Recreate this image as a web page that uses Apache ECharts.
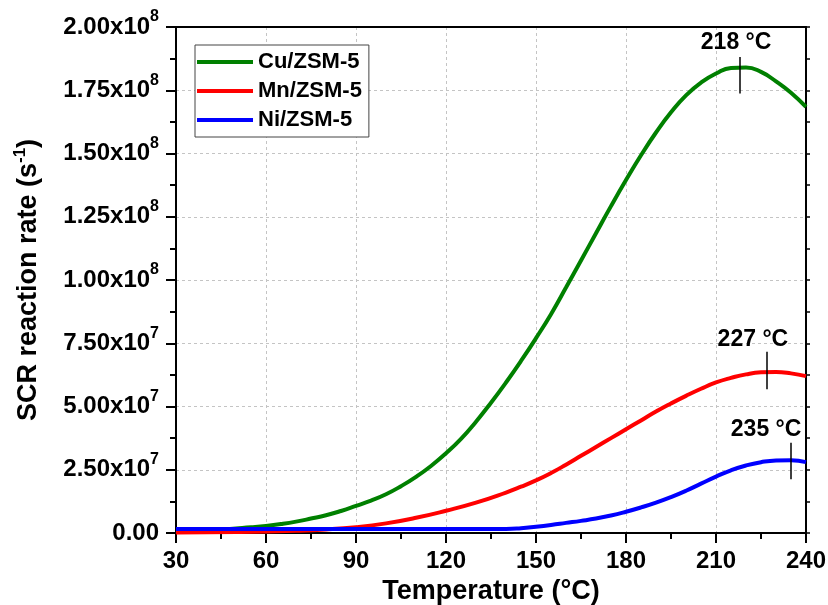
<!DOCTYPE html>
<html>
<head>
<meta charset="utf-8">
<script src="https://cdn.jsdelivr.net/npm/echarts@6/dist/echarts.min.js"></script>
<style>html,body{margin:0;padding:0;background:#fff}#c{width:828px;height:605px}</style>
</head>
<body>
<div id="c"></div>
<script>
// ---- data ----
const cuT   = [30, 35, 40, 45, 50, 55, 60, 65, 70, 75, 80, 85, 90, 95, 100, 105, 110, 115, 120, 125, 130, 135, 140, 145, 150, 155, 160, 165, 170, 175, 180, 185, 190, 195, 200, 205, 210, 215, 220, 225, 230, 235, 240];
const cuVal = [0.5e6, 0.7e6, 1.0e6, 1.35e6, 1.8e6, 2.25e6, 2.8e6, 3.55e6, 4.5e6, 5.7e6, 7.0e6, 8.7e6, 1.07e7, 1.28e7, 1.53e7, 1.85e7, 2.22e7, 2.65e7, 3.15e7, 3.72e7, 4.4e7, 5.15e7, 5.95e7, 6.8e7, 7.7e7, 8.65e7, 9.7e7, 1.077e8, 1.185e8, 1.292e8, 1.395e8, 1.493e8, 1.583e8, 1.663e8, 1.73e8, 1.78e8, 1.816e8, 1.8384e8, 1.8404e8, 1.8224e8, 1.785e8, 1.74e8, 1.684e8];
const mnT   = [30, 50, 70, 80, 90, 100, 110, 120, 130, 140, 145, 150, 155, 160, 165, 170, 175, 180, 185, 190, 195, 200, 205, 210, 215, 220, 225, 230, 235, 240];
const mnVal = [0.2e6, 0.4e6, 0.9e6, 1.4e6, 2.3e6, 3.8e6, 6.0e6, 8.8e6, 1.2e7, 1.6e7, 1.83e7, 2.08e7, 2.37e7, 2.7e7, 3.05e7, 3.4e7, 3.75e7, 4.1e7, 4.45e7, 4.8e7, 5.12e7, 5.42e7, 5.7e7, 5.95e7, 6.13e7, 6.27e7, 6.35e7, 6.365e7, 6.31e7, 6.2e7];
const niT   = [30, 60, 90, 120, 140, 145, 150, 155, 160, 165, 170, 175, 180, 185, 190, 195, 200, 205, 210, 215, 220, 225, 230, 235, 240];
const niVal = [1.6e6, 1.6e6, 1.6e6, 1.6e6, 1.6e6, 1.9e6, 2.5e6, 3.2e6, 4.0e6, 4.8e6, 5.7e6, 6.9e6, 8.4e6, 1.01e7, 1.2e7, 1.42e7, 1.67e7, 1.95e7, 2.23e7, 2.48e7, 2.67e7, 2.8e7, 2.87e7, 2.88e7, 2.8e7];
const seriesNames = ['Cu/ZSM-5', 'Mn/ZSM-5', 'Ni/ZSM-5'];
// peak annotations: temperature, marker line span (low, high), label, label anchor (T, value)
const peakT     = [218, 227, 235];
const peakLo    = [1.737e8, 5.68e7, 2.12e7];
const peakHi    = [1.881e8, 7.16e7, 3.57e7];
const peakText  = ['218 °C', '227 °C', '235 °C'];
const peakTextT = [216.7, 222.3, 226.7];
const peakTextV = [1.94e8, 7.66e7, 4.09e7];

const xMin = 30, xMax = 240, xStep = 30;
const yMin = 0, yMax = 2e8, yStep = 2.5e7;
const colors = ['#008000', '#ff0000', '#0000ff'];
const FONT = 'Liberation Sans, Arial, sans-serif';

function pairs(t, v) { return t.map((x, i) => [x, v[i]]); }
const seriesData = [pairs(cuT, cuVal), pairs(mnT, mnVal), pairs(niT, niVal)];

function yFmt(v) {
  if (v === 0) return '{m|0.00}';
  const e = Math.floor(Math.log10(v) + 1e-9);
  const m = (v / Math.pow(10, e)).toFixed(2);
  return '{m|' + m + 'x10}{s|' + e + '}';
}

const chart = echarts.init(document.getElementById('c'), null, {renderer: 'canvas'});
const series = seriesNames.map((n, i) => ({
  name: n,
  type: 'line',
  data: seriesData[i],
  smooth: 0.5,
  symbol: 'none',
  xAxisIndex: 0,
  yAxisIndex: 0,
  lineStyle: {color: colors[i], width: 4},
  itemStyle: {color: colors[i]},
  z: 3 + (i === 2 ? 1 : 0),
  markLine: {
    silent: true,
    symbol: ['none', 'none'],
    label: {show: false},
    lineStyle: {color: '#000', width: 1.5, type: 'solid'},
    data: [[{coord: [peakT[i], peakLo[i]]}, {coord: [peakT[i], peakHi[i]]}]]
  },
  markPoint: {
    silent: true,
    symbol: 'circle',
    symbolSize: 0,
    label: {
      show: true, position: 'inside', formatter: '{b}',
      color: '#000', fontFamily: FONT, fontWeight: 'bold', fontSize: 23
    },
    data: [{name: peakText[i], coord: [peakTextT[i], peakTextV[i]]}]
  }
}));

chart.setOption({
  animation: false,
  backgroundColor: '#fff',
  grid: {left: 176, right: 22, top: 27, bottom: 72, containLabel: false, outerBoundsMode: 'none'},
  legend: {
    data: seriesNames,
    orient: 'vertical',
    left: 195, top: 45,
    padding: [5, 7, 5, 2],
    icon: 'rect',
    itemWidth: 56, itemHeight: 4, itemGap: 5,
    borderColor: '#444', borderWidth: 1,
    backgroundColor: '#fff',
    textStyle: {color: '#000', fontFamily: FONT, fontWeight: 'bold', fontSize: 22, lineHeight: 24, padding: [0, 0, 0, 0]}
  },
  xAxis: [{
    type: 'value', min: xMin, max: xMax, interval: xStep, position: 'bottom',
    name: 'Temperature (°C)', nameLocation: 'middle', nameGap: 45,
    nameTextStyle: {color: '#000', fontFamily: FONT, fontWeight: 'bold', fontSize: 27},
    axisLine: {show: true, onZero: false, lineStyle: {color: '#000', width: 2}},
    axisTick: {show: true, inside: false, length: 10, lineStyle: {color: '#000', width: 2}},
    minorTick: {show: true, splitNumber: 2, length: 6, lineStyle: {color: '#000', width: 2}},
    axisLabel: {color: '#000', fontFamily: FONT, fontWeight: 'bold', fontSize: 24, margin: 16},
    splitLine: {show: true, lineStyle: {color: '#c4c4c4', width: 1, type: [3, 3]}}
  }, {
    type: 'value', min: xMin, max: xMax, interval: xStep, position: 'top',
    axisLine: {show: true, onZero: false, lineStyle: {color: '#000', width: 2}},
    axisTick: {show: false}, axisLabel: {show: false}, splitLine: {show: false}
  }],
  yAxis: [{
    type: 'value', min: yMin, max: yMax, interval: yStep, position: 'left',
    name: '{t|SCR reaction rate (s}{s|-1}{t|)}', nameLocation: 'middle', nameGap: 131,
    nameTextStyle: {
      color: '#000',
      rich: {
        t: {fontFamily: FONT, fontWeight: 'bold', fontSize: 27, color: '#000'},
        s: {fontFamily: FONT, fontWeight: 'bold', fontSize: 17, color: '#000', padding: [0, 0, 16, 0]}
      }
    },
    axisLine: {show: true, onZero: false, lineStyle: {color: '#000', width: 2}},
    axisTick: {show: true, inside: false, length: 10, lineStyle: {color: '#000', width: 2}},
    minorTick: {show: true, splitNumber: 2, length: 6, lineStyle: {color: '#000', width: 2}},
    axisLabel: {
      formatter: yFmt, margin: 17,
      rich: {
        m: {fontFamily: FONT, fontWeight: 'bold', fontSize: 24, color: '#000'},
        s: {fontFamily: FONT, fontWeight: 'bold', fontSize: 16, color: '#000', padding: [0, 0, 20, 0]}
      }
    },
    splitLine: {show: true, lineStyle: {color: '#c4c4c4', width: 1, type: [3, 3]}}
  }, {
    type: 'value', min: yMin, max: yMax, interval: yStep, position: 'right',
    axisLine: {show: true, onZero: false, lineStyle: {color: '#000', width: 2}},
    axisTick: {show: true, inside: false, length: 4, lineStyle: {color: '#000', width: 1.5}},
    minorTick: {show: true, splitNumber: 2, length: 4, lineStyle: {color: '#000', width: 1.5}},
    axisLabel: {show: false}, splitLine: {show: false}
  }],
  series: series
});
</script>
</body>
</html>
